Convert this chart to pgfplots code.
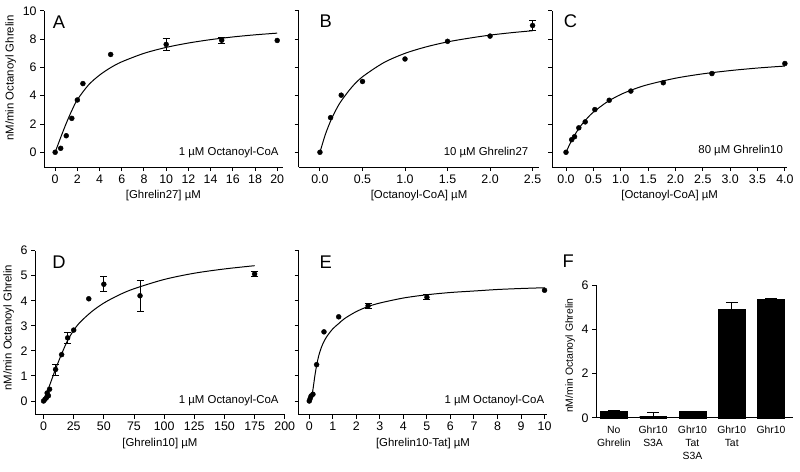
\documentclass[border=0pt]{standalone}
\usepackage{pgfplots}
\pgfplotsset{compat=1.18}
\usepackage{fontspec}
\setmainfont{Liberation Sans}
\newcommand{\lbl}{\fontsize{11.5}{13}\selectfont}
\newcommand{\tlbl}{\fontsize{12.5}{13}\selectfont}
\newcommand{\sml}{\fontsize{10.5}{13}\selectfont}
\newcommand{\plbl}{\fontsize{18.5}{20}\selectfont}
\pgfplotsset{
  panel/.style={
    scale only axis, axis lines=left,
    axis line style={-, line width=1bp},
    tick align=outside, major tick length=4bp,
    every tick/.style={black, line width=1bp},
    /pgf/number format/assume math mode=true,
    ticklabel style={font=\tlbl}, label style={font=\lbl},
    clip=false, anchor=south west,
  },
  pts/.style={only marks, mark=*, mark size=2.5bp, black},
  errs/.style={only marks, mark=*, mark size=2.5bp, black,
    error bars/.cd, y dir=both, y explicit, error mark=|,
    error bar style={line width=0.7bp, black},
    error mark options={line width=0.7bp, mark size=3.5bp, black}},
  fit/.style={no marks, black, line width=1bp, smooth},
}
\begin{document}
\begin{tikzpicture}
\path (0,0) rectangle (800bp,-474bp);
% ---------------- A
\begin{axis}[panel, at={(40bp,-168bp)}, width=240bp, height=157bp,
  xmin=-1, xmax=20.5, ymin=-1.05, ymax=10,
  xtick={0,2,...,20}, ytick={0,2,...,10},
  xlabel={[Ghrelin27] µM}, ylabel={nM/min Octanoyl Ghrelin},
  ylabel style={at={(ticklabel cs:0.57)}}]
\addplot[fit] table {
x y
0 0
0.5 1.05
1 2.05
1.5 2.95
2 3.72
3 4.76
4 5.46
5 5.99
6 6.40
8 7.00
10 7.42
12 7.73
14 7.97
16 8.16
18 8.31
20 8.43
};
\addplot[pts] table {
x y
0 0
0.5 0.28
1 1.17
1.5 2.40
2 3.70
2.5 4.86
5 6.92
20 7.91
};
\addplot[errs] table[y error=e] {
x y e
10 7.63 0.40
15 7.93 0.20
};
\end{axis}
% ---------------- B
\begin{axis}[panel, at={(296bp,-168bp)}, width=242bp, height=157bp,
  xmin=-0.25, xmax=2.58, ymin=-1.05, ymax=10,
  xtick={0,0.5,...,2.5}, ytick={0,2,...,10}, yticklabels={},
  xticklabel style={/pgf/number format/.cd, fixed, fixed zerofill, precision=1},
  xlabel={[Octanoyl-CoA] µM}]
\addplot[fit] table {
x y
0 0
0.0625 1.24
0.125 2.21
0.1875 2.99
0.25 3.63
0.375 4.61
0.5 5.34
0.75 6.34
1.0 7.00
1.25 7.46
1.5 7.81
1.75 8.07
2.0 8.29
2.25 8.46
2.5 8.60
};
\addplot[pts] table {
x y
0 0
0.125 2.45
0.25 4.04
0.5 5.01
1.0 6.60
1.5 7.85
2.0 8.22
};
\addplot[errs] table[y error=e] {
x y e
2.5 8.97 0.33
};
\end{axis}
% ---------------- C
\begin{axis}[panel, at={(551bp,-168bp)}, width=236bp, height=157bp,
  xmin=-0.25, xmax=4.04, ymin=-1.05, ymax=10,
  xtick={0,0.5,...,4}, ytick={0,2,...,10}, yticklabels={},
  xticklabel style={/pgf/number format/.cd, fixed, fixed zerofill, precision=1},
  xlabel={[Octanoyl-CoA] µM}]
\addplot[fit] table {
x y
0 0
0.1 0.82
0.2 1.48
0.3 2.02
0.4 2.46
0.5 2.84
0.75 3.56
1.0 4.09
1.25 4.48
1.5 4.79
2.0 5.24
2.5 5.55
3.0 5.78
3.5 5.96
4.0 6.10
};
\addplot[pts] table {
x y
0 0
0.104 0.89
0.156 1.10
0.234 1.73
0.351 2.15
0.527 3.02
0.790 3.68
1.185 4.33
1.778 4.92
2.667 5.57
4.0 6.28
};
\end{axis}
% ---------------- D
\begin{axis}[panel, at={(31bp,-417bp)}, width=251bp, height=165bp,
  xmin=-7, xmax=200, ymin=-0.55, ymax=6,
  xtick={0,25,...,200}, ytick={0,1,...,6},
  xlabel={[Ghrelin10] µM}, ylabel={nM/min Octanoyl Ghrelin},
  ylabel style={at={(ticklabel cs:0.53)}}]
\addplot[fit] table {
x y
0 0
2.5 0.30
5 0.62
7.5 0.95
10 1.28
15 1.88
20 2.42
25 2.82
30 3.13
40 3.57
50 3.91
62.5 4.23
75 4.48
100 4.85
125 5.10
150 5.27
175 5.40
};
\addplot[pts] table {
x y
0 0
1.25 0.07
2.5 0.14
3 0.32
4 0.21
5 0.47
15 1.85
25 2.83
37.5 4.08
};
\addplot[errs] table[y error=e] {
x y e
10 1.26 0.22
20 2.52 0.22
50 4.66 0.30
80 4.20 0.61
175 5.07 0.10
};
\end{axis}
% ---------------- E
\begin{axis}[panel, at={(296bp,-417bp)}, width=250bp, height=165bp,
  xmin=-0.45, xmax=10.12, ymin=-0.55, ymax=6,
  xtick={0,1,...,10}, ytick={0,1,...,6}, yticklabels={},
  xlabel={[Ghrelin10-Tat] µM}]
\addplot[fit] table {
x y
0 0
0.05 0.08
0.1 0.20
0.15 0.42
0.2 0.75
0.25 1.08
0.32 1.46
0.4 1.80
0.5 2.10
0.6 2.33
0.75 2.58
1.0 2.88
1.25 3.09
1.5 3.29
2.0 3.57
2.5 3.77
3.0 3.91
4.0 4.11
5.0 4.24
6.0 4.33
7.0 4.39
8.0 4.45
9.0 4.49
10.0 4.52
};
\addplot[pts] table {
x y
0 0
0.039 0.10
0.078 0.20
0.156 0.27
0.3125 1.45
0.625 2.76
1.25 3.36
10 4.42
};
\addplot[errs] table[y error=e] {
x y e
2.5 3.80 0.10
5 4.14 0.10
};
\end{axis}
% ---------------- F
\begin{axis}[panel, at={(595bp,-420bp)}, width=198bp, height=133bp,
  xmin=-0.45, xmax=4.56, ymin=0, ymax=6,
  ytick={0,2,4,6}, xtick={0,1,2,3,4},
  xticklabels={{No\\Ghrelin},{Ghr10\\S3A},{Ghr10\\Tat\\S3A},{Ghr10\\Tat},{Ghr10}},
  xticklabel style={align=center, font=\sml, anchor=north, yshift=-1bp},
  x tick style={draw=none},
  ylabel={nM/min Octanoyl Ghrelin}, ylabel style={font=\sml, at={(ticklabel cs:0.47)}}]
\addplot[ybar, bar width=0.68, fill=black, draw=black,
  error bars/.cd, y dir=plus, y explicit, error mark=|,
  error bar style={line width=0.9bp, black},
  error mark options={line width=0.9bp, mark size=6bp, black}]
  table[y error=e] {
x y e
0 0.28 0.03
1 0.07 0.18
2 0.28 0.02
3 4.93 0.29
4 5.37 0.02
};
\end{axis}
% panel letters and conditions
\node[font=\plbl] at (55bp,-22.7bp) {A};
\node[font=\plbl] at (323.3bp,-21.7bp) {B};
\node[font=\plbl] at (569.3bp,-21.7bp) {C};
\node[font=\plbl] at (55bp,-264bp) {D};
\node[font=\plbl] at (323.3bp,-263.3bp) {E};
\node[font=\plbl] at (567bp,-263bp) {F};
\node[font=\lbl, anchor=east, inner sep=0pt] at (276bp,-153bp) {1 µM Octanoyl-CoA};
\node[font=\lbl, anchor=east, inner sep=0pt] at (527bp,-153bp) {10 µM Ghrelin27};
\node[font=\lbl, anchor=east, inner sep=0pt] at (783bp,-151.7bp) {80 µM Ghrelin10};
\node[font=\lbl, anchor=east, inner sep=0pt] at (276bp,-402.7bp) {1 µM Octanoyl-CoA};
\node[font=\lbl, anchor=east, inner sep=0pt] at (543bp,-403bp) {1 µM Octanoyl-CoA};
\end{tikzpicture}
\end{document}
